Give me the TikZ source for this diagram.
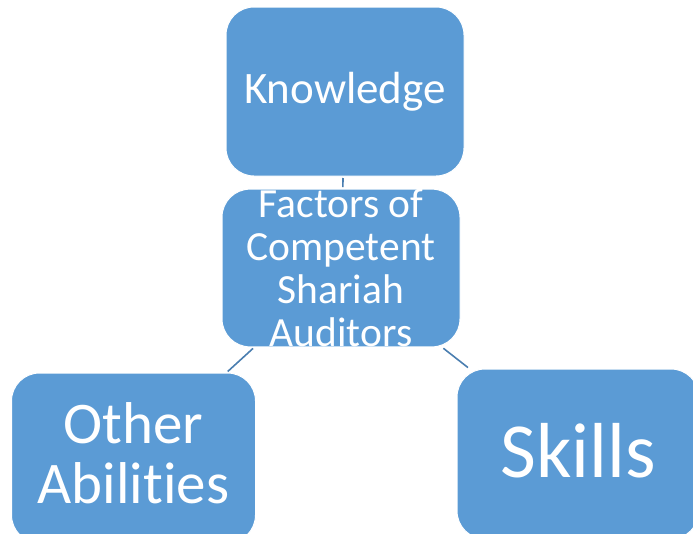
\documentclass[tikz,border=0pt]{standalone}
\usepackage{fontspec}
\setmainfont{Carlito}[Ligatures = NoCommon]
\usepackage{xcolor}
\definecolor{boxblue}{HTML}{5B9BD5}
\definecolor{linkblue}{HTML}{4A7EB0}

\begin{document}
\begin{tikzpicture}[x = 1pt, y = -1pt,
	factorbox/.style = {draw = white, line width = 1pt, fill = boxblue, text = white,
		rounded corners = 28pt, align = center, inner sep = 0pt},
	link/.style = {draw = linkblue, line width = 1.6pt}]
	\useasboundingbox (0, 0) rectangle (693, 533);
	\clip (0, 0) rectangle (693, 533);
	
	\node[factorbox, minimum width = 238pt, minimum height = 169pt,
		font = \fontsize{45}{48}\selectfont] (knowledge) at (345, 91.5) {Knowledge};
	\node[factorbox, minimum width = 238pt, minimum height = 155pt,
		font = \fontsize{41.5}{43}\selectfont] (factors) at (341, 268)
		{Factors of\\Competent\\Shariah\\Auditors};
	\node[factorbox, minimum width = 244pt, minimum height = 170pt,
		font = \fontsize{59}{60}\selectfont, text depth = 10pt] (other) at (133.5, 458)
		{Other\\Abilities};
	\node[factorbox, minimum width = 242pt, minimum height = 170pt,
		font = \fontsize{78}{80}\selectfont, text depth = 8pt] (skills) at (578, 454) {Skills};
	
	\draw[link, shorten <= 1.5pt, shorten >= 1.5pt] (factors) -- (knowledge);
	\draw[link, shorten <= 1.5pt, shorten >= 1.5pt] (factors) -- (other);
	\draw[link, shorten <= 1.5pt, shorten >= 1.5pt] (factors) -- (skills);
\end{tikzpicture}
\end{document}
